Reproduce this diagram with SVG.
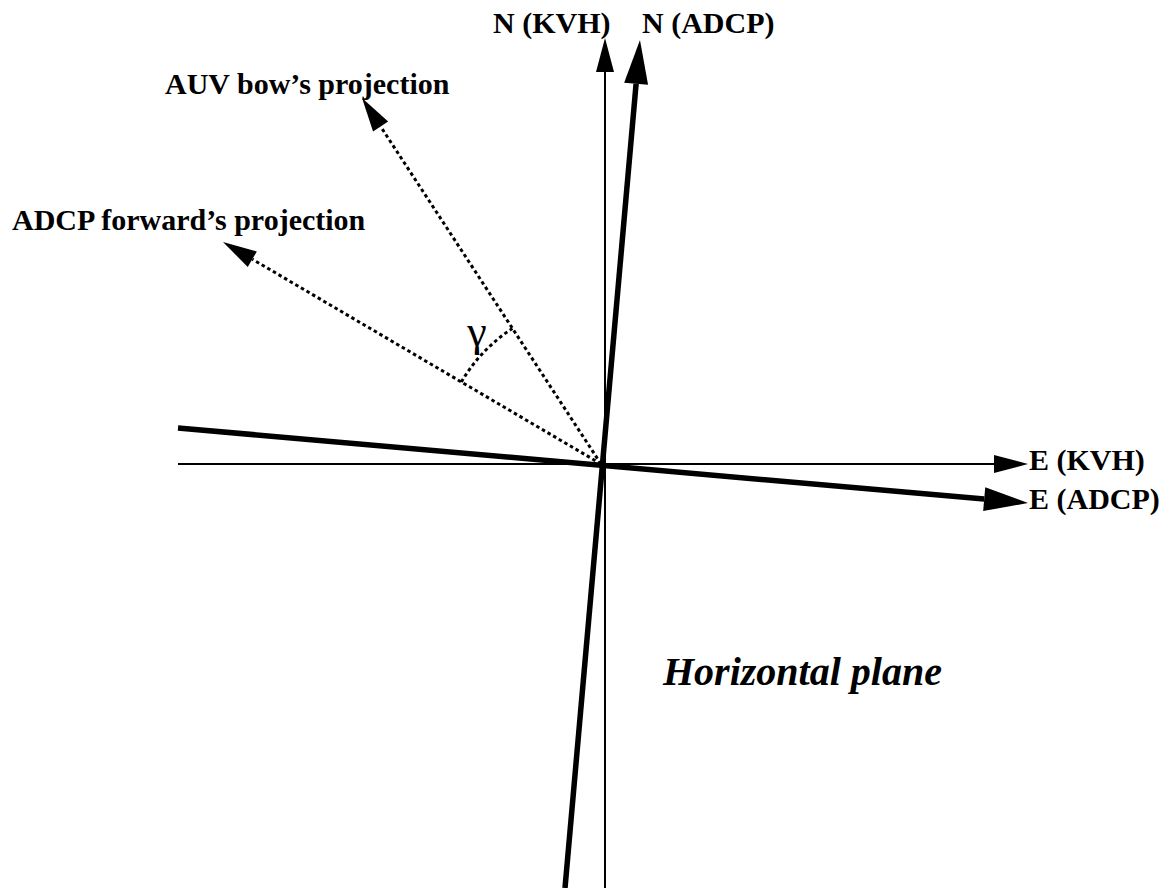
<svg xmlns="http://www.w3.org/2000/svg" width="1167" height="888" viewBox="0 0 1167 888">
  <style>
    .thin { stroke: #000; stroke-width: 2; fill: none; }
    .thick { stroke: #000; stroke-width: 5.5; fill: none; }
    .dot { stroke: #000; stroke-width: 3; stroke-dasharray: 3.5 3; fill: none; }
    .lbl { font-family: "Liberation Serif", "Times New Roman", serif; font-weight: bold; font-size: 30px; fill: #000; }
    .plane { font-family: "Liberation Serif", "Times New Roman", serif; font-weight: bold; font-style: italic; font-size: 40px; fill: #000; }
    .greek { font-family: "Liberation Serif", "DejaVu Serif", serif; font-size: 44px; fill: #000; }
  </style>
  <defs>
    <marker id="ah-thin" markerUnits="userSpaceOnUse" markerWidth="34" markerHeight="18" refX="0" refY="9" orient="auto" overflow="visible">
      <path d="M0,0 L34,9 L0,18 Z" fill="#000"/>
    </marker>
    <marker id="ah-thick" markerUnits="userSpaceOnUse" markerWidth="44" markerHeight="24" refX="0" refY="12" orient="auto" overflow="visible">
      <path d="M0,0 L44,12 L0,24 Z" fill="#000"/>
    </marker>
  </defs>
  <rect width="1167" height="888" fill="#fff"/>
  <g id="connectors">
    <line id="n-kvh" class="thin" x1="605" y1="888" x2="605" y2="72" marker-end="url(#ah-thin)"/>
    <line id="e-kvh" class="thin" x1="178" y1="464" x2="994" y2="464" marker-end="url(#ah-thin)"/>
    <line id="n-adcp" class="thick" x1="565" y1="888" x2="636.1" y2="83.8" marker-end="url(#ah-thick)"/>
    <line id="e-adcp" class="thick" x1="178" y1="428" x2="984.2" y2="499.1" marker-end="url(#ah-thick)"/>
    <line id="auv-bow" class="dot" x1="601" y1="464" x2="380.6" y2="126.5" marker-end="url(#ah-thin)"/>
    <line id="adcp-fwd" class="dot" x1="601" y1="464" x2="252.3" y2="259.2" marker-end="url(#ah-thin)"/>
    <path id="gamma-arc" class="dot" d="M461.3,382 A162,162 0 0 1 512.4,328.4"/>
  </g>
  <g id="label-n-kvh"><text class="lbl" x="493" y="33">N (KVH)</text></g>
  <g id="label-n-adcp"><text class="lbl" x="642" y="33">N (ADCP)</text></g>
  <g id="label-auv"><text class="lbl" x="165" y="94">AUV bow’s projection</text></g>
  <g id="label-adcp-fwd"><text class="lbl" x="12" y="230">ADCP forward’s projection</text></g>
  <g id="label-e-kvh"><text class="lbl" x="1029" y="470">E (KVH)</text></g>
  <g id="label-e-adcp"><text class="lbl" x="1029" y="509">E (ADCP)</text></g>
  <g id="label-gamma"><text class="greek" x="477" y="346" text-anchor="middle">γ</text></g>
  <g id="label-plane"><text class="plane" x="663" y="685">Horizontal plane</text></g>
</svg>
